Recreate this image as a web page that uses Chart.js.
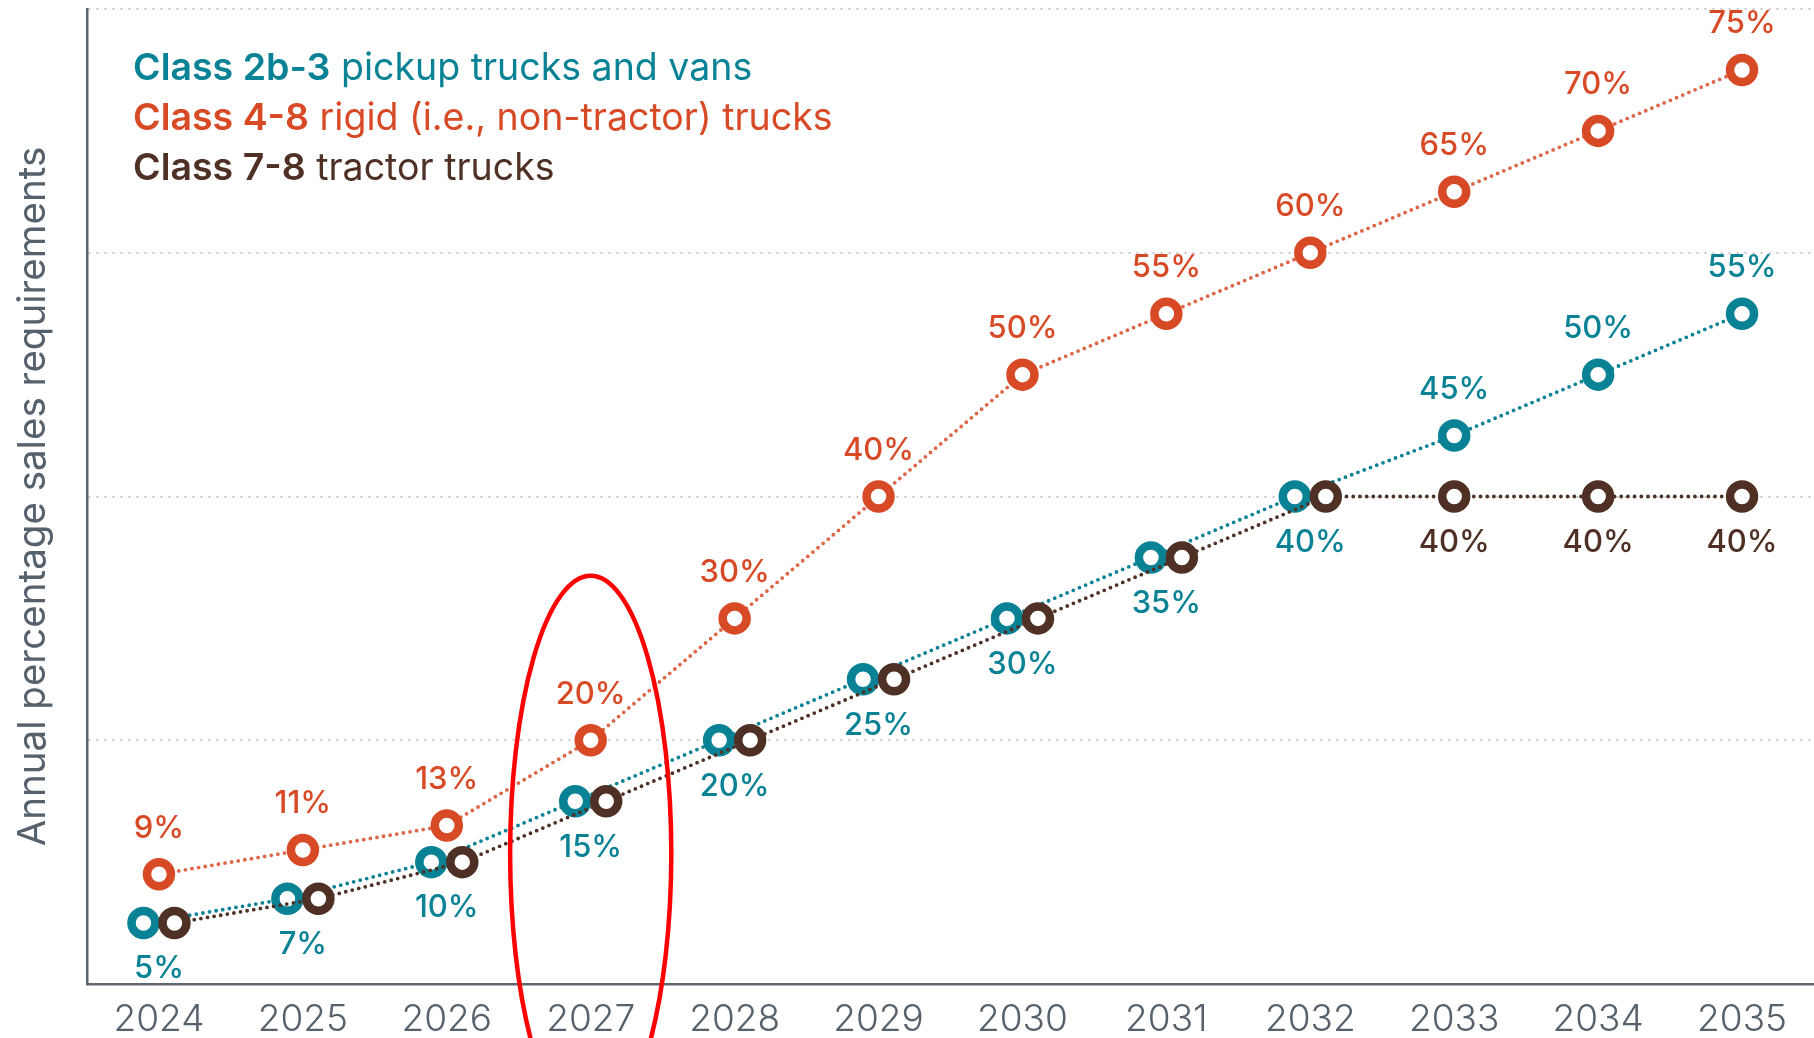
<!DOCTYPE html>
<html>
<head>
<meta charset="utf-8">
<script src="https://cdn.jsdelivr.net/npm/chart.js@4.4.1/dist/chart.umd.min.js"></script>
<style>
  html, body { margin: 0; padding: 0; background: #fff; }
  #wrap { position: relative; width: 1814px; height: 1038px; }
</style>
</head>
<body>
<div id="wrap"><canvas id="zev-chart"></canvas></div>
<script>
// values
var years = ["2024", "2025", "2026", "2027", "2028", "2029", "2030", "2031", "2032", "2033", "2034", "2035"];
var pickupVans = [5, 7, 10, 15, 20, 25, 30, 35, 40, 45, 50, 55];
var rigidTrucks = [9, 11, 13, 20, 30, 40, 50, 55, 60, 65, 70, 75];
var tractorTrucks = [5, 7, 10, 15, 20, 25, 30, 35, 40, 40, 40, 40];
var yTickValues = [0, 20, 40, 60, 80];

var seriesNames = ["Class 2b-3", "Class 4-8", "Class 7-8"];
var seriesDesc = [" pickup trucks and vans", " rigid (i.e., non-tractor) trucks", " tractor trucks"];

var teal = "#0a8296";
var orange = "#d84a26";
var brown = "#4e3025";
var axisColor = "#5d6771";
var gridColor = "#c8c8c8";
var textGrey = "#55616c";

var pairGap = 15.5;   // px shift of two rings sharing a value
var labelGap = 46;    // px between ring centre and its label

function series(name, values, color, lineColor, order) {
  return {
    label: name,
    data: values,
    order: order,
    borderColor: lineColor,
    borderWidth: 3.8,
    borderDash: [0, 6.7],
    borderCapStyle: "round",
    tension: 0,
    fill: false,
    pointRadius: 12,
    pointHoverRadius: 12,
    pointBorderWidth: 8.5,
    pointHoverBorderWidth: 8.5,
    pointBackgroundColor: "#ffffff",
    pointBorderColor: color
  };
}

// pull apart the teal and brown rings where both series share the value
var pairOffset = {
  id: "pairOffset",
  afterDatasetsUpdate: function (chart) {
    var a = chart.getDatasetMeta(0), b = chart.getDatasetMeta(2);
    for (var i = 0; i < pickupVans.length; i++) {
      if (pickupVans[i] === tractorTrucks[i]) {
        a.data[i].x -= pairGap;
        b.data[i].x += pairGap;
      }
    }
    a.dataset._path = undefined;
    b.dataset._path = undefined;
  }
};

var pointLabels = {
  id: "pointLabels",
  afterDatasetsDraw: function (chart) {
    var ctx = chart.ctx, xs = chart.scales.x;
    ctx.save();
    ctx.font = "500 31px Inter";
    ctx.textAlign = "center";
    ctx.textBaseline = "middle";
    chart.data.datasets.forEach(function (ds, d) {
      var meta = chart.getDatasetMeta(d);
      ds.data.forEach(function (v, i) {
        var same = pickupVans[i] === tractorTrucks[i];
        var below;
        if (d === 1) below = false;
        else if (d === 0) below = same;
        else { if (same) return; below = true; }
        var y = meta.data[i].y + (below ? labelGap : -labelGap);
        ctx.fillStyle = ds.pointBorderColor;
        ctx.fillText(v + "%", xs.getPixelForValue(i), y);
      });
    });
    ctx.restore();
  }
};

var legendText = {
  id: "legendText",
  afterDraw: function (chart) {
    var ctx = chart.ctx, area = chart.chartArea;
    var colors = [teal, orange, brown];
    ctx.save();
    ctx.textBaseline = "alphabetic";
    ctx.textAlign = "left";
    for (var i = 0; i < seriesNames.length; i++) {
      var x = area.left + 46;
      var y = area.top + 71 + i * 50;
      ctx.fillStyle = colors[i];
      ctx.font = "600 37.5px Inter";
      ctx.fillText(seriesNames[i], x, y);
      x += ctx.measureText(seriesNames[i]).width;
      ctx.font = "400 37.5px Inter";
      ctx.fillText(seriesDesc[i], x, y);
    }
    ctx.restore();
  }
};

// red ellipse drawn round the 2027 column
var highlight = { year: "2027", centre: 10.7, halfSpan: 22.8, halfWidth: 0.56 };
var highlightRing = {
  id: "highlightRing",
  afterDraw: function (chart) {
    var ctx = chart.ctx, xs = chart.scales.x, ys = chart.scales.y;
    var i = years.indexOf(highlight.year);
    var cx = xs.getPixelForValue(i);
    var cy = ys.getPixelForValue(highlight.centre);
    var ry = ys.getPixelForValue(0) - ys.getPixelForValue(highlight.halfSpan);
    var rx = (xs.getPixelForValue(1) - xs.getPixelForValue(0)) * highlight.halfWidth;
    ctx.save();
    ctx.strokeStyle = "#ff0000";
    ctx.lineWidth = 4.5;
    ctx.beginPath();
    ctx.ellipse(cx, cy, rx, ry, 0, 0, Math.PI * 2);
    ctx.stroke();
    ctx.restore();
  }
};

var ctx = document.getElementById("zev-chart").getContext("2d");
window.zevChart = new Chart(ctx, {
  type: "line",
  data: {
    labels: years,
    datasets: [
      series(seriesNames[0] + seriesDesc[0], pickupVans, teal, teal, 2),
      series(seriesNames[1] + seriesDesc[1], rigidTrucks, orange, "rgba(216,74,38,0.85)", 1),
      series(seriesNames[2] + seriesDesc[2], tractorTrucks, brown, brown, 0)
    ]
  },
  options: {
    responsive: true,
    maintainAspectRatio: false,
    animation: false,
    layout: { autoPadding: false, padding: { top: 9, left: 0, right: 0, bottom: 0 } },
    plugins: {
      legend: { display: false },
      tooltip: { enabled: false }
    },
    scales: {
      x: {
        offset: true,
        grid: { display: false, drawTicks: false },
        border: { display: true, color: axisColor, width: 2.5 },
        ticks: {
          color: textGrey,
          font: { family: "Inter", size: 37, weight: 300 },
          padding: 14,
          maxRotation: 0,
          autoSkip: false
        },
        afterFit: function (s) { s.height = 54; }
      },
      y: {
        min: yTickValues[0],
        max: yTickValues[yTickValues.length - 1],
        afterBuildTicks: function (s) {
          s.ticks = yTickValues.map(function (v) { return { value: v }; });
        },
        ticks: { display: false },
        grid: { color: gridColor, lineWidth: 2, drawTicks: false },
        border: { display: true, color: axisColor, width: 2.5, dash: [2, 6] },
        title: {
          display: true,
          text: "Annual percentage sales requirements",
          color: textGrey,
          font: { family: "Inter", size: 38.5, weight: 400 },
          padding: { top: 10, bottom: 0 }
        },
        afterFit: function (s) { s.width = 87; }
      }
    }
  },
  plugins: [pairOffset, pointLabels, legendText, highlightRing]
});
</script>
</body>
</html>
